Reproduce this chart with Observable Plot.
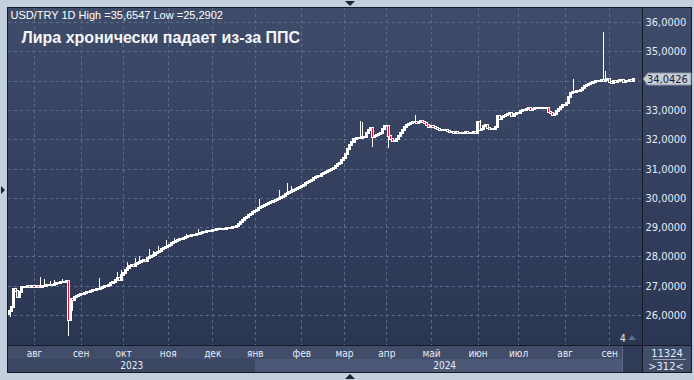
<!DOCTYPE html>
<html><head><meta charset="utf-8">
<script src="https://cdn.jsdelivr.net/npm/d3@7"></script>
<script src="https://cdn.jsdelivr.net/npm/@observablehq/plot@0.6"></script>
<style>
html,body{margin:0;padding:0;background:#c3cfdd;}
#wrap{position:relative;width:694px;height:380px;overflow:hidden;font-family:"Liberation Sans",Arial,sans-serif;}
.abs{position:absolute;}
#wrap svg.plotsvg{position:absolute;left:0;top:0;}
.narrow{font-family:"Liberation Sans Narrow","DejaVu Sans Condensed","Liberation Sans",sans-serif;}
</style></head><body>
<div id="wrap">
  <div class="abs" style="left:7px;top:7px;width:685px;height:366px;background:#141a26"></div>
  <div class="abs" style="left:8px;top:8px;width:634px;height:337px;background:linear-gradient(#3e4b69,#2b3653)"></div>
  <div class="abs" style="left:643px;top:8px;width:48px;height:337px;background:linear-gradient(#3e4b69,#2b3653)"></div>
  <div class="abs" style="left:8px;top:346px;width:634px;height:13px;background:#414d69"></div>
  <div class="abs" style="left:8px;top:359px;width:634px;height:13px;background:#3b4762"></div>
  <div class="abs" id="band2024" style="top:359px;height:13px;background:#4c5875"></div>
  <div class="abs" style="left:622px;top:346px;width:1px;height:26px;background:#5e6a86"></div>
  <div class="abs" style="left:623px;top:346px;width:19px;height:26px;background:#2f3b57"></div>
  <div class="abs" style="left:643px;top:346px;width:48px;height:26px;background:#414d69"></div>
  <div class="abs narrow" style="left:643px;top:346px;width:48px;text-align:center;color:#e4ecf8;font-size:11px;line-height:11px;padding-top:2px">11324</div>
  <div class="abs" style="left:653px;top:359px;width:33px;height:1px;background:#9aa5bb"></div>
  <div class="abs narrow" style="left:642px;top:361px;width:48px;text-align:center;color:#e4ecf8;font-size:11px;line-height:11px">&gt;312&lt;</div>
  <div class="abs narrow" style="left:620px;top:334px;color:#e4ecf8;font-size:10px;line-height:10px">4</div>
  <div class="abs" style="left:628px;top:335px;width:0;height:0;border-left:4px solid transparent;border-right:4px solid transparent;border-bottom:5px solid #5f6c8a"></div>
  <div class="abs" style="left:345px;top:1px;width:0;height:0;border-left:5px solid transparent;border-right:5px solid transparent;border-top:5px solid #1e2636"></div>
  <div class="abs" style="left:345px;top:374px;width:0;height:0;border-left:5px solid transparent;border-right:5px solid transparent;border-bottom:5px solid #1e2636"></div>
  <div class="abs" style="left:1px;top:186px;width:0;height:0;border-top:4px solid transparent;border-bottom:4px solid transparent;border-left:4px solid #1e2636"></div>
</div>
<script>
// ---- data: daily closes (weekdays), by month ----
const firstOpen = 26.03;
const jul23 = [26.15, 26.28, 26.88, 26.82, 26.60, 26.80, 26.97, 26.96, 26.97, 26.98, 26.96, 26.98];
const aug23 = [26.97, 26.98, 26.96, 26.97, 26.99, 27.00, 27.02, 27.01, 27.03, 27.04, 27.05, 27.08, 27.10, 27.12, 27.11, 27.14, 27.16, 25.83, 26.55, 26.50, 26.62, 26.64, 26.68];
const sep23 = [26.70, 26.72, 26.74, 26.78, 26.80, 26.83, 26.85, 26.86, 26.88, 26.90, 26.93, 26.95, 26.98, 27.00, 27.03, 27.08, 27.12, 27.18, 27.25, 27.20, 27.35];
const oct23 = [27.45, 27.55, 27.62, 27.66, 27.70, 27.68, 27.74, 27.76, 27.80, 27.84, 27.88, 27.86, 27.95, 27.98, 28.02, 28.05, 28.10, 28.15, 28.20, 28.24, 28.28, 28.32];
const nov23 = [28.36, 28.40, 28.45, 28.48, 28.52, 28.55, 28.58, 28.60, 28.62, 28.65, 28.68, 28.70, 28.72, 28.74, 28.76, 28.78, 28.80, 28.82, 28.84, 28.85, 28.86, 28.88];
const dec23 = [28.90, 28.91, 28.92, 28.93, 28.94, 28.94, 28.95, 28.96, 28.97, 28.98, 28.99, 29.00, 29.05, 29.12, 29.18, 29.25, 29.30, 29.36, 29.42, 29.46, 29.50];
const jan24 = [29.55, 29.60, 29.64, 29.68, 29.72, 29.75, 29.78, 29.82, 29.86, 29.90, 29.93, 29.96, 30.00, 30.03, 30.07, 30.12, 30.16, 30.20, 30.24, 30.27, 30.30, 30.33, 30.36];
const feb24 = [30.40, 30.45, 30.50, 30.54, 30.58, 30.62, 30.66, 30.70, 30.73, 30.76, 30.80, 30.84, 30.87, 30.90, 30.94, 30.98, 31.03, 31.08, 31.14, 31.20, 31.28];
const mar24 = [31.35, 31.50, 31.65, 31.80, 31.92, 32.00, 32.03, 32.05, 32.04, 32.06, 32.08, 32.20, 32.30, 32.38, 32.07, 32.12, 32.15, 32.18, 32.20, 32.35, 32.45];
const apr24 = [32.45, 32.10, 32.00, 31.95, 31.94, 32.02, 32.10, 32.20, 32.30, 32.40, 32.47, 32.52, 32.55, 32.58, 32.60, 32.57, 32.60, 32.62, 32.58, 32.55, 32.50, 32.42];
const may24 = [32.45, 32.40, 32.38, 32.36, 32.30, 32.33, 32.32, 32.30, 32.28, 32.25, 32.24, 32.22, 32.23, 32.21, 32.22, 32.20, 32.22, 32.23, 32.21, 32.20, 32.22, 32.24, 32.22];
const jun24 = [32.60, 32.30, 32.35, 32.45, 32.48, 32.38, 32.36, 32.34, 32.36, 32.40, 32.78, 32.70, 32.75, 32.80, 32.82, 32.85, 32.90, 32.78, 32.85, 32.88];
const jul24 = [32.90, 32.95, 33.00, 32.98, 33.02, 33.05, 33.00, 33.03, 33.05, 33.08, 33.06, 33.05, 33.07, 33.06, 33.08, 32.93, 32.88, 32.84, 32.87, 32.95, 33.02, 33.10, 33.16];
const aug24 = [33.18, 33.22, 33.45, 33.58, 33.60, 33.62, 33.63, 33.65, 33.68, 33.75, 33.80, 33.85, 33.88, 33.92, 33.95, 33.97, 33.98, 34.00, 34.02, 34.00, 34.03, 34.05];
const sep24 = [33.95, 33.92, 34.00, 33.96, 34.00, 34.02, 34.03, 33.95, 33.98, 34.00, 34.02, 34.00, 34.0426];
// wicks beyond the bodies: [trading-day index, price]
const upperWicks = [[15,27.30],[17,27.22],[20,27.15],[22,27.20],[26,27.22],[28,27.21],[44,27.26],[53,27.47],[55,27.52],[58,27.80],[62,27.95],[64,28.00],[69,28.25],[71,28.20],[73,28.35],[77,28.55],[81,28.62],[87,28.78],[93,28.92],[123,29.95],[133,30.25],[137,30.50],[139,30.40],[173,32.62],[174,32.58],[200,32.83],[232,32.66],[278,34.05],[293,35.6547],[294,34.34]];
const lowerWicks = [[0,25.93],[29,25.2902],[31,26.14],[179,31.73],[187,31.70]];
const yTicks = [26, 27, 28, 29, 30, 31, 32, 33, 34, 35, 36];
const monthNames = ["янв","фев","мар","апр","май","июн","июл","авг","сен","окт","ноя","дек"];
const headerText = "USD/TRY 1D";
const titleText = "Лира хронически падает из-за ППС";

// ---- build ----
const closes = [].concat(jul23, aug23, sep23, oct23, nov23, dec23, jan24, feb24, mar24, apr24, may24, jun24, jul24, aug24, sep24);
const dates = d3.timeDay.range(new Date(2023, 6, 14), new Date(2024, 8, 19)).filter(d => d.getDay() !== 0 && d.getDay() !== 6);
const bars = closes.map((c, i) => {
  const o = i === 0 ? firstOpen : closes[i - 1];
  return {i, date: dates[i], open: o, close: c, high: Math.max(o, c), low: Math.min(o, c)};
});
upperWicks.forEach(([i, v]) => { bars[i].high = Math.max(bars[i].high, v); });
lowerWicks.forEach(([i, v]) => { bars[i].low = Math.min(bars[i].low, v); });

const fmt4 = v => d3.format(".4f")(v).replace(".", ",");
const hi = d3.max(bars, d => d.high), lo = d3.min(bars, d => d.low);
const monthIdx = bars.filter((d, i) => i > 0 && d.date.getMonth() !== bars[i - 1].date.getMonth()).map(d => d.i);
const xDomain = [-0.84, 312.2];
const years = d3.groups(bars, d => d.date.getFullYear()).map(([y, arr]) => {
  const a = Math.max(xDomain[0], arr[0].i - 0.5), b = Math.min(xDomain[1], arr[arr.length - 1].i + 0.5);
  return {year: y, center: (a + b) / 2, start: arr[0].i};
});
const yearLabel = new Map(years.map(y => [y.center, String(y.year)]));
const red = "#e3122f";
const gridColor = "#5b6b8c";

const plot = Plot.plot({
  width: 694, height: 380,
  marginLeft: 8, marginRight: 52, marginTop: 8, marginBottom: 35,
  style: {background: "transparent", color: "#e4ecf8", fontFamily: "'Liberation Sans Narrow','DejaVu Sans Condensed','Liberation Sans',sans-serif", fontSize: "11px", overflow: "visible"},
  x: {type: "linear", domain: xDomain},
  y: {domain: [24.976, 36.478]},
  marks: [
    Plot.gridY(yTicks, {stroke: gridColor, strokeOpacity: 1, strokeDasharray: "3,3", shapeRendering: "crispEdges"}),
    Plot.gridX(monthIdx, {stroke: gridColor, strokeOpacity: 1, strokeDasharray: "3,3", shapeRendering: "crispEdges"}),
    Plot.ruleX(bars, {x: "i", y1: "low", y2: "high", stroke: "white", strokeWidth: 1, shapeRendering: "crispEdges"}),
    Plot.rect(bars.filter(d => d.close >= d.open), {x1: d => d.i - 0.5, x2: d => d.i + 0.5, y1: "open", y2: "close", fill: "white", stroke: "white", strokeWidth: 1, insetTop: -0.5, insetBottom: -0.5, shapeRendering: "crispEdges"}),
    Plot.rect(bars.filter(d => d.close < d.open), {x1: d => d.i - 0.5, x2: d => d.i + 0.5, y1: "open", y2: "close", fill: red, stroke: "white", strokeWidth: 1, insetTop: -0.5, insetBottom: -0.5, shapeRendering: "crispEdges"}),
    Plot.axisY(yTicks, {anchor: "right", tickSize: 0, tickPadding: 3, tickFormat: fmt4, label: null}),
    Plot.axisX(monthIdx, {anchor: "bottom", tickSize: 0, tickPadding: 4, fontSize: 10, tickFormat: i => monthNames[dates[i].getMonth()], label: null}),
    Plot.axisX(years.map(y => y.center), {anchor: "bottom", tickSize: 0, tickPadding: 16, fontSize: 10, tickFormat: c => yearLabel.get(c), label: null}),
    Plot.text([`${headerText} High =${fmt4(hi)} Low =${fmt4(lo)}`], {frameAnchor: "top-left", dx: 2, dy: 10, lineAnchor: "bottom", textAnchor: "start", fill: "white", fontSize: 11, fontFamily: "'Liberation Sans',Arial,sans-serif"}),
    Plot.text([titleText], {frameAnchor: "top-left", dx: 13, dy: 34, lineAnchor: "bottom", textAnchor: "start", fill: "#f4f6fa", fontSize: 16, fontWeight: "bold", fontFamily: "'Liberation Sans',Arial,sans-serif"})
  ]
});
plot.classList.add("plotsvg");
const wrap = document.getElementById("wrap");
wrap.appendChild(plot);

const xs = plot.scale("x"), ys = plot.scale("y");
const band = document.getElementById("band2024");
const bx = xs.apply(years[1].start);
band.style.left = bx + "px";
band.style.width = (642 - bx) + "px";

// last price tag
const last = bars[bars.length - 1].close;
const cy = ys.apply(last);
const tag = document.createElement("div");
tag.className = "abs";
tag.style.left = "642px"; tag.style.top = (cy - 7) + "px";
tag.innerHTML = `<svg width="52" height="14" style="display:block"><polygon points="1,7 6,1 49,1 49,13 6,13" fill="#c9cdd5" stroke="#8792a7"/><text x="5" y="11" font-size="11" fill="#17213a" font-family="'Liberation Sans Narrow','DejaVu Sans Condensed',sans-serif">${fmt4(last)}</text></svg>`;
wrap.appendChild(tag);
</script>
</body></html>
